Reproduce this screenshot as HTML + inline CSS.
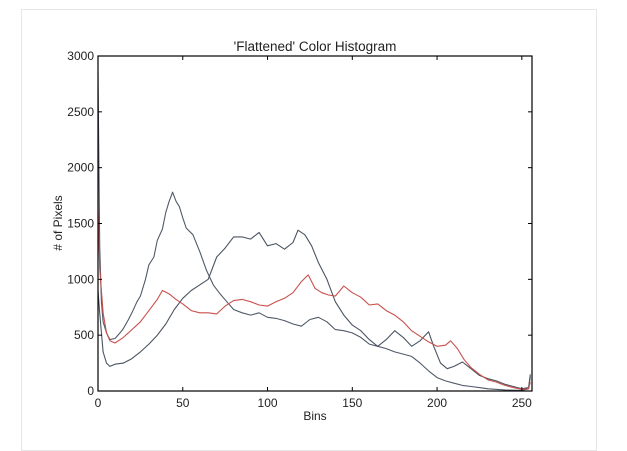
<!DOCTYPE html>
<html><head><meta charset="utf-8"><style>
body{margin:0;background:#fff;width:627px;height:437px;overflow:hidden;font-family:"Liberation Sans",sans-serif;}
#frame{position:absolute;left:21px;top:9px;width:574px;height:440px;border:1px solid #e6e6e6;background:#fff;}
</style></head><body>
<div id="frame"></div>
<svg id="chart" width="627" height="437" style="position:absolute;left:0;top:0"></svg>
<script>
const ticksX=[0,50,100,150,200,250];
const ticksY=[0,500,1000,1500,2000,2500,3000];
const binsA=[0,1,2,3,5,7,10,13,15,18,20,23,25,28,30,33,35,38,40,42,44,46,48,50,52,56,60,64,68,72,76,80,85,90,95,100,105,110,115,120,125,130,135,140,145,150,155,160,165,170,175,180,185,190,195,200,205,210,215,220,225,230,240,250,254,255];
const valsA=[2850,1300,800,620,520,460,470,520,560,640,700,800,850,1000,1130,1200,1350,1450,1600,1700,1780,1700,1650,1550,1460,1400,1250,1080,950,870,800,730,700,680,700,660,650,630,600,580,640,660,620,550,540,520,480,420,400,380,350,330,310,250,180,120,90,70,50,40,30,20,10,5,20,130];
const binsB=[0,1,3,5,7,10,15,20,25,30,35,40,45,50,55,60,65,70,75,80,85,90,95,100,105,110,115,118,122,126,130,135,140,145,150,155,160,165,170,175,180,185,190,195,198,202,206,210,215,220,225,230,235,240,245,250,254,255];
const valsB=[900,700,350,250,220,240,250,290,350,420,500,600,730,830,900,950,1000,1200,1280,1380,1380,1360,1420,1300,1320,1270,1330,1440,1400,1300,1150,1000,800,680,590,540,460,400,460,540,480,400,450,530,400,250,200,220,260,200,140,110,90,60,40,20,30,150];
const binsR=[0,1,3,5,7,10,15,20,25,30,35,38,42,46,50,55,60,65,70,75,80,85,90,95,100,105,110,115,120,124,128,132,136,140,145,150,155,160,165,170,175,180,185,190,195,200,205,208,212,216,220,225,230,235,240,245,250,254,255];
const valsR=[1650,1100,700,520,450,430,480,550,620,720,820,900,870,820,780,720,700,700,690,760,810,820,800,770,760,800,830,880,980,1040,920,880,860,850,940,880,840,770,780,720,680,620,540,490,440,400,410,450,380,280,210,150,100,80,50,30,15,20,80];
const L=98,R=532,T=56,B=391;
const xs=v=>L+(v/256)*(R-L), ys=v=>B-(v/3000)*(B-T);
const svg=document.getElementById('chart');
const NS='http://www.w3.org/2000/svg';
function mk(t,a){const e=document.createElementNS(NS,t);for(const k in a)e.setAttribute(k,a[k]);svg.appendChild(e);return e;}
function line(bins,vals,color,name){
  const d=bins.map((b,i)=>(i?'L':'M')+xs(b).toFixed(1)+','+ys(vals[i]).toFixed(1)).join('');
  const p=mk('path',{d:d,fill:'none',stroke:color,'stroke-width':1.1,'stroke-linejoin':'round'});
  
  
}
line(binsA,valsA,'#505a68','series-blue');
line(binsB,valsB,'#4a5462','series-green');
line(binsR,valsR,'#c8504c','series-red');
const fr=mk('rect',{x:L,y:T,width:R-L,height:B-T,fill:'none',stroke:'#000','stroke-width':1.2});


ticksX.forEach(v=>{
  const x=xs(v);
  mk('line',{x1:x,y1:B,x2:x,y2:B-4,stroke:'#000'});
  mk('line',{x1:x,y1:T,x2:x,y2:T+4,stroke:'#000'});
  const t=mk('text',{x:x,y:B+16,'text-anchor':'middle','font-size':12,fill:'#222'});
  t.textContent=v;
  
  
});
ticksY.forEach(v=>{
  const y=ys(v);
  mk('line',{x1:L,y1:y,x2:L+4,y2:y,stroke:'#000'});
  mk('line',{x1:R,y1:y,x2:R-4,y2:y,stroke:'#000'});
  const t=mk('text',{x:L-4,y:y+4,'text-anchor':'end','font-size':12,fill:'#222'});
  t.textContent=v;
  
  
});
const ti=mk('text',{x:(L+R)/2,y:51,'text-anchor':'middle','font-size':13.5,fill:'#222'});
ti.textContent="'Flattened' Color Histogram";


const xl=mk('text',{x:(L+R)/2,y:420,'text-anchor':'middle','font-size':12,fill:'#222'});
xl.textContent='Bins';


const yl=mk('text',{x:62,y:223,'text-anchor':'middle','font-size':12,fill:'#222',transform:'rotate(-90 62 223)'});
yl.textContent='# of Pixels';


</script>
</body></html>
